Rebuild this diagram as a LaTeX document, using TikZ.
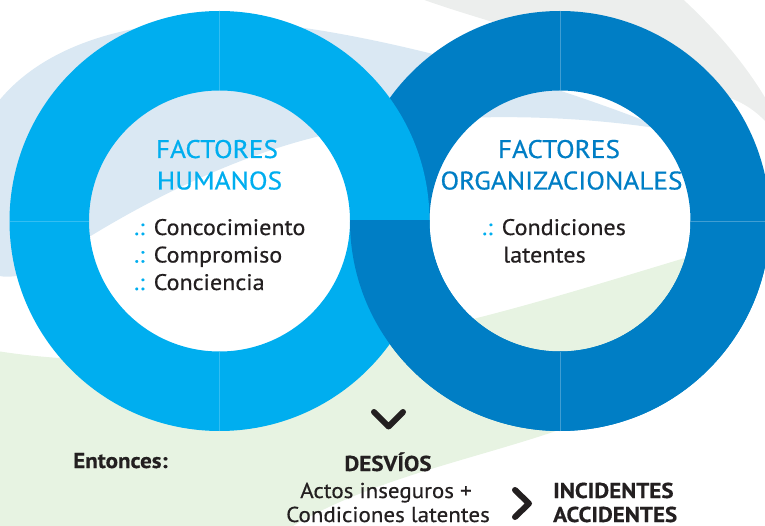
\documentclass[tikz,border=0pt]{standalone}
\usepackage{fontspec}
\setmainfont{PT Sans}[FakeStretch=1.07]
\newfontfamily\medfont{PT Sans}[FakeStretch=1.07,FakeBold=0.5]
\usetikzlibrary{positioning}
\definecolor{cyanring}{HTML}{00AEEF}
\definecolor{bluering}{HTML}{007EC5}
\definecolor{skyback}{HTML}{DAE8F3}
\definecolor{greyback}{HTML}{ECEEED}
\definecolor{greenback}{HTML}{E7F3E2}
\definecolor{ink}{HTML}{231F20}

\begin{document}
\begin{tikzpicture}[x=1pt,y=-1pt,
    ring/.style={even odd rule},
    divline/.style={line width=0.6pt},
    title/.style={anchor=base,inner sep=0pt,font=\medfont\fontsize{25.5}{30}\selectfont},
    item/.style={anchor=base west,inner sep=0pt,text=ink,font=\medfont\fontsize{22.5}{26}\selectfont},
    bottom/.style={anchor=base,inner sep=0pt,text=ink,font=\medfont\fontsize{21.5}{25}\selectfont},
    chev/.style={draw=ink,line width=6pt,line cap=round,line join=round}]
  \useasboundingbox (0,0) rectangle (765,526);
  \clip (0,0) rectangle (765,526);
  \coordinate (cl) at (219.5,221);
  \coordinate (cr) at (560,221);
  % background swooshes
  \fill[greyback] (405,-8) .. controls (440,10) and (600,50) .. (735,100)
    .. controls (770,115) and (790,150) .. (800,190)
    .. controls (790,120) and (740,50) .. (675,-8) -- cycle;
  \fill[skyback] (-20,130) .. controls (20,50) and (120,20) .. (225,21)
    .. controls (330,22) and (520,70) .. (668,130)
    .. controls (560,112) and (420,112) .. (320,136)
    .. controls (220,160) and (120,215) .. (50,262)
    .. controls (20,282) and (-20,285) .. (-20,250) -- cycle;
  \fill[greenback] (-20,348) .. controls (120,375) and (330,355) .. (477,318)
    .. controls (560,297) and (650,268) .. (745,240)
    .. controls (700,350) and (640,400) .. (553,432)
    .. controls (470,460) and (370,480) .. (293,526) -- (293,540) -- (-20,540) -- cycle;
  % rings
  \fill[bluering,ring] (cr) circle[radius=210pt] (cr) circle[radius=130.5pt];
  \fill[cyanring,ring] (cl) circle[radius=210pt] (cl) circle[radius=130.5pt];
  \foreach \a in {90,180,270}
    \draw[divline,cyanring!80!white] (cl) ++(\a:130.5) -- ++(\a:79.5);
  \begin{scope}
    \clip (300,221) rectangle (780,540);
    \fill[bluering,ring] (cr) circle[radius=210pt] (cr) circle[radius=130.5pt];
  \end{scope}
  \foreach \a in {0,90,270}
    \draw[divline,bluering!75!white] (cr) ++(\a:130.5) -- ++(\a:79.5);
  % texts in the rings
  \node[title,text=cyanring] (humtit1) at (217,158) {FACTORES};
  \node[title,text=cyanring] (humtit2) at (219.5,189.5) {HUMANOS};
  \node[title,text=bluering] (orgtit1) at (559,158) {FACTORES};
  \node[title,text=bluering] (orgtit2) at (561.5,189.5) {ORGANIZACIONALES};
  \foreach \t [count=\i] in {Concocimiento,Compromiso,Conciencia}
    \node[item] (hum\i) at (134,235+27.5*\i-27.5)
      {\makebox[19.5pt][l]{\color{cyanring}.:}\t};
  \node[item] (org1) at (482,235) {\makebox[19.5pt][l]{\color{cyanring}.:}Condiciones};
  \node[item] (org2) at (503,262.5) {latentes};
  % bottom line
  \node[bottom,anchor=base west] (entonces) at (73,468) {\bfseries Entonces:};
  \node[bottom] (desvios) at (388,471) {\bfseries DESVÍOS};
  \node[bottom] (actos) at (386,498) {Actos inseguros +};
  \node[bottom] (condic) at (388,522) {Condiciones latentes};
  \node[bottom,anchor=base west] (incid) at (553,498) {\bfseries INCIDENTES};
  \node[bottom,anchor=base west] (accid) at (553,522) {\bfseries ACCIDENTES};
  \draw[chev] (374,412) -- (388.5,426.5) -- (403,412);
  \draw[chev] (515,490) -- (529,503.5) -- (515,517);
\end{tikzpicture}
\end{document}
